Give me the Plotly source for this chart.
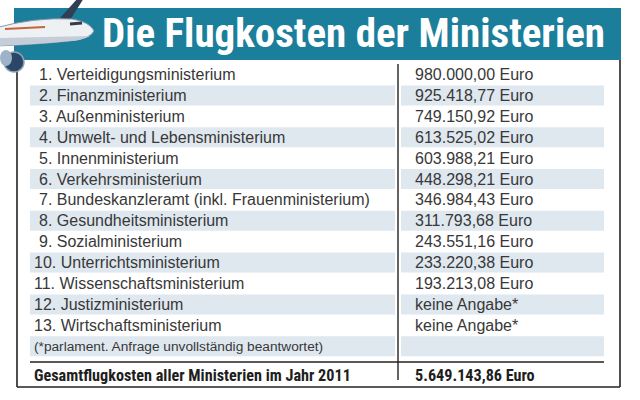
import plotly.graph_objects as go

# ---- data ----
title = "Die Flugkosten der Ministerien"
ministries = [
    "Verteidigungsministerium",
    "Finanzministerium",
    "Außenministerium",
    "Umwelt- und Lebensministerium",
    "Innenministerium",
    "Verkehrsministerium",
    "Bundeskanzleramt (inkl. Frauenministerium)",
    "Gesundheitsministerium",
    "Sozialministerium",
    "Unterrichtsministerium",
    "Wissenschaftsministerium",
    "Justizministerium",
    "Wirtschaftsministerium",
]
costs_eur = [980000.00, 925418.77, 749150.92, 613525.02, 603988.21, 448298.21,
             346984.43, 311793.68, 243551.16, 233220.38, 193213.08, None, None]
no_answer = "keine Angabe*"
footnote = "(*parlament. Anfrage unvollständig beantwortet)"
total_label = "Gesamtflugkosten aller Ministerien im Jahr 2011"
total_eur = 5649143.86


def fmt_de(v):
    s = f"{v:,.2f}"
    return s.replace(",", "X").replace(".", ",").replace("X", ".") + " Euro"


# ---- style / layout constants ----
W, H = 640, 400
TEAL = "#1b7e9b"
SHADE = "#dfe7ef"
TXT = "#383838"
LINE = "#222222"
BODY_FONT = "Liberation Sans, Arial, sans-serif"
COND_FONT = "Roboto Condensed, DejaVu Sans Condensed, sans-serif"
ROW0, STEP = 74.5, 20.9
XL_TXT, XR_TXT = 32, 413
XDIV = 398

fig = go.Figure()
shapes = []
ann = []

# banner
shapes.append(dict(type="rect", x0=14, x1=621, y0=8, y1=60, fillcolor=TEAL, line_width=0, layer="below"))
ann.append(dict(x=100, y=33, text=title, xanchor="left", yanchor="middle", showarrow=False,
                font=dict(family=COND_FONT, size=41, color="white", weight="bold")))

# rows
n = len(ministries)
rows_all = n + 1  # + footnote row
for i in range(rows_all):
    c = ROW0 + i * STEP
    if i % 2 == 1:
        shapes.append(dict(type="rect", x0=30, x1=395, y0=c - 10, y1=c + 10,
                           fillcolor=SHADE, line_width=0, layer="below"))
        shapes.append(dict(type="rect", x0=401, x1=604, y0=c - 10, y1=c + 10,
                           fillcolor=SHADE, line_width=0, layer="below"))

for i, (name, val) in enumerate(zip(ministries, costs_eur)):
    c = ROW0 + i * STEP
    xl = XL_TXT + (5 if i < 9 else 0)
    ann.append(dict(x=xl, y=c, text=f"{i + 1}. {name}", xanchor="left", yanchor="middle",
                    showarrow=False, font=dict(family=BODY_FONT, size=16, color=TXT)))
    ann.append(dict(x=XR_TXT, y=c, text=fmt_de(val) if val is not None else no_answer,
                    xanchor="left", yanchor="middle", showarrow=False,
                    font=dict(family=BODY_FONT, size=16, color=TXT)))

cf = ROW0 + n * STEP
ann.append(dict(x=XL_TXT, y=cf, text=footnote, xanchor="left", yanchor="middle",
                showarrow=False, font=dict(family=BODY_FONT, size=13.7, color=TXT)))

# total row
ct = 375.5
ann.append(dict(x=XL_TXT, y=ct, text=total_label, xanchor="left", yanchor="middle", showarrow=False,
                font=dict(family=COND_FONT, size=16.2, color="#1e1e1e", weight="bold")))
ann.append(dict(x=XR_TXT, y=ct, text=fmt_de(total_eur), xanchor="left", yanchor="middle", showarrow=False,
                font=dict(family=COND_FONT, size=16.2, color="#1e1e1e", weight="bold")))

# borders
shapes += [
    dict(type="line", x0=17, x1=17, y0=66, y1=387, line=dict(color=LINE, width=1.6)),
    dict(type="line", x0=620, x1=620, y0=60, y1=387, line=dict(color=LINE, width=1.6)),
    dict(type="line", x0=17, x1=620, y0=387, y1=387, line=dict(color=LINE, width=1.6)),
    dict(type="line", x0=XDIV, x1=XDIV, y0=64, y1=380, line=dict(color=LINE, width=1.4)),
    dict(type="line", x0=30, x1=604, y0=362, y1=362, line=dict(color=LINE, width=1.6)),
]

# decorative plane
shapes += [
    dict(type="path", path="M 60,18 L 78,-2 L 84,-2 L 70,20 Z", fillcolor="#2f3f55", line_width=0),
    dict(type="path", path="M -5,28 Q 35,17 72,19 Q 90,22 94,31 Q 90,39 70,41 Q 30,45 -5,46 Z",
         fillcolor="#eef1f4", line=dict(color="#8a98a8", width=1)),
    dict(type="path", path="M -5,38 Q 40,37 90,36 Q 80,41 70,41 Q 30,45 -5,46 Z",
         fillcolor="#c5ced8", line_width=0),
    dict(type="line", x0=70, x1=82, y0=24, y1=23, line=dict(color="#333c48", width=3)),
    dict(type="line", x0=5, x1=45, y0=29, y1=27, line=dict(color="#c7633a", width=2)),
    dict(type="circle", x0=4, x1=24, y0=52, y1=72, fillcolor="#2c4766", line=dict(color="#8da2b8", width=1.5)),
    dict(type="circle", x0=0, x1=12, y0=50, y1=66, fillcolor="#9eb3c8", line_width=0),
]

fig.update_layout(
    width=W, height=H, margin=dict(l=0, r=0, t=0, b=0),
    paper_bgcolor="white", plot_bgcolor="white",
    xaxis=dict(range=[0, W], visible=False, fixedrange=True),
    yaxis=dict(range=[H, 0], visible=False, fixedrange=True),
    shapes=shapes, annotations=ann, showlegend=False,
)
fig.write_html("out.html", config={"displayModeBar": False},
               post_script="document.body.style.margin='0';")
